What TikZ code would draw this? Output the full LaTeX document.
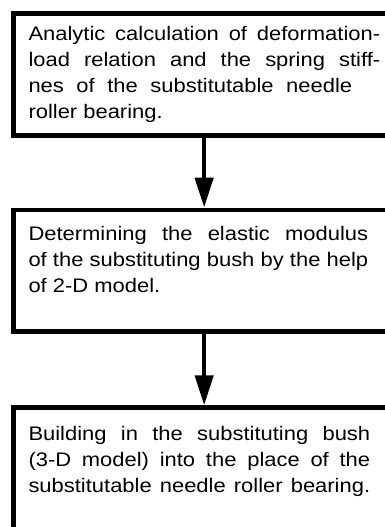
\documentclass[tikz,border=0pt]{standalone}
\usepackage{fontspec}
\setmainfont{Liberation Sans}[FakeStretch=1.12]
\usetikzlibrary{arrows.meta}
\begin{document}
\begin{tikzpicture}[x=1pt,y=-1pt,
  stepbox/.style={draw=black, line width=4.5pt, rectangle, minimum width=381.7pt, minimum height=121.5pt, inner sep=0pt},
  steptext/.style={anchor=base west, inner sep=0pt, font=\fontsize{19.6}{26}\selectfont},
  flow/.style={line width=4.5pt, -{Triangle[length=30pt,width=18pt]}}]
\useasboundingbox (0,0) rectangle (385,527);
\fill[white] (0,0) rectangle (385,527);
\clip (0,0) rectangle (385,527);
\node[stepbox] (b1) at (204.15,74.5) {};
\node[stepbox] (b2) at (204.15,270.6) {};
\node[stepbox] (b3) at (204.15,468.3) {};
\node[steptext] (t1) at (28.3,40.7) {\parbox[t]{360pt}{%
\makebox[351.7pt][s]{Analytic calculation of deformation-}\\
\makebox[351.7pt][s]{load relation and the spring stiff-}\\
\makebox[323.7pt][s]{nes of the substitutable needle}\\
roller bearing.}};
\node[steptext] (t2) at (28.3,240.7) {\parbox[t]{360pt}{%
\makebox[339.7pt][s]{Determining the elastic modulus}\\
\makebox[339.7pt][s]{of the substituting bush by the help}\\
of 2-D model.}};
\node[steptext] (t3) at (28.3,440.7) {\parbox[t]{360pt}{%
\makebox[341.7pt][s]{Building in the substituting bush}\\
\makebox[341.7pt][s]{(3-D model) into the place of the}\\
\makebox[341.7pt][s]{substitutable needle roller bearing.}}};
\draw[flow] (b1.south) -- (b2.north);
\draw[flow] (b2.south) -- (b3.north);
\end{tikzpicture}
\end{document}
